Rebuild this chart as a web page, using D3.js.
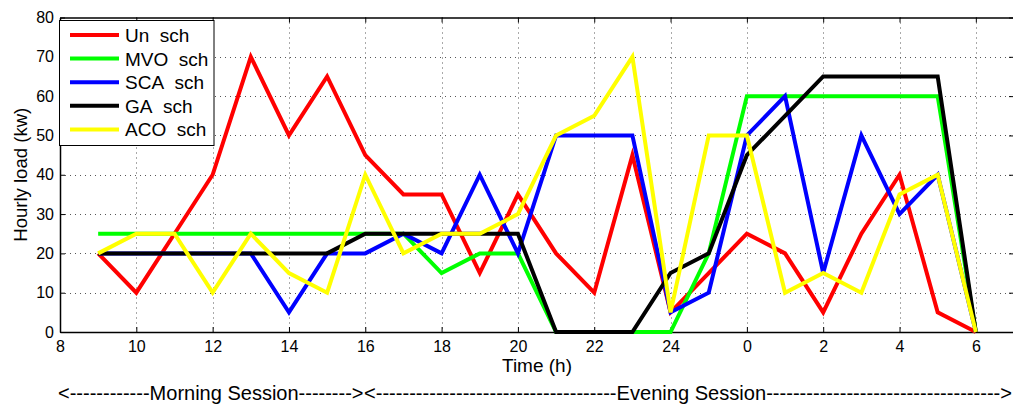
<!DOCTYPE html>
<html>
<head>
<meta charset="utf-8">
<script src="https://cdn.jsdelivr.net/npm/d3@7"></script>
<style>
  body { margin: 0; background: #fff; }
  svg { display: block; font-family: "Liberation Sans", Arial, sans-serif; }
</style>
</head>
<body>
<svg id="chart" width="1013" height="407"></svg>
<script>
// hour slots (after 24 the clock restarts: 26 -> 0, 28 -> 2 ...)
let hours = [9, 10, 11, 12, 13, 14, 15, 16, 17, 18, 19, 20, 21, 22, 23, 24, 25, 26, 27, 28, 29, 30, 31, 32];

let unSch  = [20, 10, 25, 40, 70, 50, 65, 45, 35, 35, 15, 35, 20, 10, 45, 5, 15, 25, 20, 5, 25, 40, 5, 0];
let mvoSch = [25, 25, 25, 25, 25, 25, 25, 25, 25, 15, 20, 20, 0, 0, 0, 0, 20, 60, 60, 60, 60, 60, 60, 0];
let scaSch = [20, 20, 20, 20, 20, 5, 20, 20, 25, 20, 40, 20, 50, 50, 50, 5, 10, 50, 60, 15, 50, 30, 40, 0];
let gaSch  = [20, 20, 20, 20, 20, 20, 20, 25, 25, 25, 25, 25, 0, 0, 0, 15, 20, 45, 55, 65, 65, 65, 65, 0];
let acoSch = [20, 25, 25, 10, 25, 15, 10, 40, 20, 25, 25, 30, 50, 55, 70, 5, 50, 50, 10, 15, 10, 35, 40, 0];

let seriesNames  = ['Un\u00a0\u00a0sch', 'MVO\u00a0\u00a0sch', 'SCA\u00a0\u00a0sch', 'GA\u00a0\u00a0sch', 'ACO\u00a0\u00a0sch'];
let seriesColors = ['#ff0000', '#00ff00', '#0000ff', '#000000', '#ffff00'];
let seriesValues = [unSch, mvoSch, scaSch, gaSch, acoSch];

let xTickValues = [8, 10, 12, 14, 16, 18, 20, 22, 24, 26, 28, 30, 32];
let xTickLabels = ['8', '10', '12', '14', '16', '18', '20', '22', '24', '0', '2', '4', '6'];
let yTickValues = [0, 10, 20, 30, 40, 50, 60, 70, 80];

let morningText = '<' + '-'.repeat(12) + 'Morning Session' + '-'.repeat(8) + '>';
let eveningText = '<' + '-'.repeat(36) + 'Evening Session' + '-'.repeat(35) + '>';

const plotLeft = 60, plotRight = 1014, plotTop = 17.5, plotBottom = 332;

const svg = d3.select('#chart');
const x = d3.scaleLinear().domain([8, 33]).range([plotLeft, plotRight]);
const y = d3.scaleLinear().domain([0, 80]).range([plotBottom, plotTop]);

// dotted grid
const grid = svg.append('g')
    .attr('stroke', '#555')
    .attr('stroke-width', 1)
    .attr('stroke-dasharray', '1,4');
grid.selectAll('.gx').data(xTickValues.slice(1))
    .enter().append('line')
    .attr('x1', d => Math.round(x(d)) + 0.5).attr('x2', d => Math.round(x(d)) + 0.5)
    .attr('y1', plotTop).attr('y2', plotBottom);
grid.selectAll('.gy').data(yTickValues.slice(1, -1))
    .enter().append('line')
    .attr('x1', plotLeft).attr('x2', plotRight)
    .attr('y1', d => Math.round(y(d)) + 0.5).attr('y2', d => Math.round(y(d)) + 0.5);

// axes (ticks pointing inward, box on all sides)
const fmtX = d => xTickLabels[xTickValues.indexOf(d)];
const bottomAxis = svg.append('g').attr('transform', `translate(0,${plotBottom})`)
    .call(d3.axisBottom(x).tickValues(xTickValues).tickFormat(fmtX).tickSizeInner(-5).tickSizeOuter(0).tickPadding(9));
const topAxis = svg.append('g').attr('transform', `translate(0,${plotTop})`)
    .call(d3.axisTop(x).tickValues(xTickValues).tickFormat('').tickSizeInner(-5).tickSizeOuter(0));
const leftAxis = svg.append('g').attr('transform', `translate(${plotLeft},0)`)
    .call(d3.axisLeft(y).tickValues(yTickValues).tickSizeInner(-5).tickSizeOuter(0).tickPadding(6));
const rightAxis = svg.append('g').attr('transform', `translate(${plotRight},0)`)
    .call(d3.axisRight(y).tickValues(yTickValues).tickFormat('').tickSizeInner(-5).tickSizeOuter(0));

[bottomAxis, topAxis, leftAxis, rightAxis].forEach(a => {
    a.selectAll('path').attr('stroke', '#000').attr('stroke-width', 1.5);
    a.selectAll('line').attr('stroke', '#000');
    a.selectAll('text').attr('font-size', 16).attr('fill', '#000')
        .attr('font-family', '"Liberation Sans", Arial, sans-serif');
});

// series lines
const line = d3.line().x((d, i) => x(hours[i])).y(d => y(d));
svg.append('g').selectAll('path').data(seriesValues)
    .enter().append('path')
    .attr('d', d => line(d))
    .attr('fill', 'none')
    .attr('stroke', (d, i) => seriesColors[i])
    .attr('stroke-width', 4)
    .attr('stroke-linejoin', 'miter');

// axis titles
svg.append('text')
    .attr('x', (plotLeft + plotRight) / 2).attr('y', 372)
    .attr('text-anchor', 'middle').attr('font-size', 18)
    .attr('textLength', 70).attr('lengthAdjust', 'spacingAndGlyphs')
    .text('Time (h)');
svg.append('text')
    .attr('transform', `translate(27,${(plotTop + plotBottom) / 2}) rotate(-90)`)
    .attr('text-anchor', 'middle').attr('font-size', 18)
    .attr('textLength', 134).attr('lengthAdjust', 'spacingAndGlyphs')
    .text('Hourly load (kw)');

// session annotations
svg.append('text')
    .attr('x', 58).attr('y', 400).attr('font-size', 20)
    .text(morningText);
svg.append('text')
    .attr('x', 364).attr('y', 400).attr('font-size', 20)
    .attr('textLength', 648).attr('lengthAdjust', 'spacingAndGlyphs')
    .text(eveningText);

// legend
const legend = svg.append('g');
legend.append('rect')
    .attr('x', 59.5).attr('y', 20.5).attr('width', 154.5).attr('height', 125)
    .attr('fill', '#fff').attr('stroke', '#000').attr('stroke-width', 1);
const entry = legend.selectAll('.entry').data(seriesNames)
    .enter().append('g')
    .attr('transform', (d, i) => `translate(0,${35 + i * 23.6})`);
entry.append('line')
    .attr('x1', 70).attr('x2', 119)
    .attr('stroke', (d, i) => seriesColors[i])
    .attr('stroke-width', 4);
entry.append('text')
    .attr('x', 125).attr('y', 7).attr('font-size', 19)
    .text(d => d);
</script>
</body>
</html>
